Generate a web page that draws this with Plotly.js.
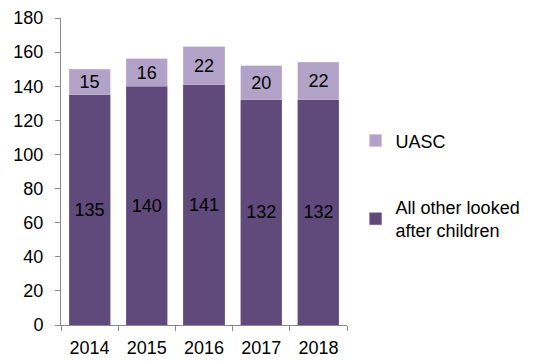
<!DOCTYPE html>
<html><head><meta charset="utf-8">
<script src="https://cdn.plot.ly/plotly-3.0.1.min.js"></script>
<style>html,body{margin:0;padding:0;background:#fff}</style>
</head><body><div id="chart" style="width:542px;height:361px"></div>
<script>
const years = ["2014","2015","2016","2017","2018"];
const allOther = [135,140,141,132,132];
const uasc = [15,16,22,20,22];
const yTicks = [0,20,40,60,80,100,120,140,160,180];

const font = {family: "Liberation Sans, Arial, sans-serif", size: 18, color: "#000"};
const traces = [
  {type:"bar", x: years, y: allOther, name: "All other looked<br>after children",
   marker:{color:"#604a7b", line:{color:"#7a6a90", width:0.5}},
   text: allOther.map(String), textposition:"inside", insidetextanchor:"middle",
   constraintext:"none", textfont:{...font}, hoverinfo:"none", legendgroup:"a", legendrank:2},
  {type:"bar", x: years, y: uasc, name: "UASC",
   marker:{color:"#b3a2c7", line:{color:"#c9bcd8", width:0.5}},
   text: uasc.map(String), textposition:"inside", insidetextanchor:"middle",
   constraintext:"none", textfont:{...font}, hoverinfo:"none", legendgroup:"b", legendrank:1}
];
const layout = {
  barmode:"stack", bargap:0.28,
  width:542, height:361,
  margin:{l:61, r:195, t:18, b:36},
  paper_bgcolor:"#fff", plot_bgcolor:"#fff",
  font: font,
  showlegend:true,
  legend:{x:1.03, y:0.66, xanchor:"left", yanchor:"top", traceorder:"grouped",
    tracegroupgap:40, font:{...font}, itemwidth:30, bgcolor:"rgba(0,0,0,0)"},
  xaxis:{type:"category", showline:true, linecolor:"#898989", linewidth:1,
    ticks:"outside", tickson:"boundaries", ticklen:5, tickcolor:"#898989",
    ticklabelstandoff:6,
    showgrid:false, zeroline:false, tickfont:{...font}},
  yaxis:{range:[0,180], tickvals:yTicks, showline:true, linecolor:"#898989", linewidth:1,
    ticks:"outside", ticklen:5, tickcolor:"#898989", showgrid:false, zeroline:false,
    ticklabelstandoff:8,
    tickfont:{...font}}
};
Plotly.newPlot("chart", traces, layout, {staticPlot:true});
</script></body></html>
